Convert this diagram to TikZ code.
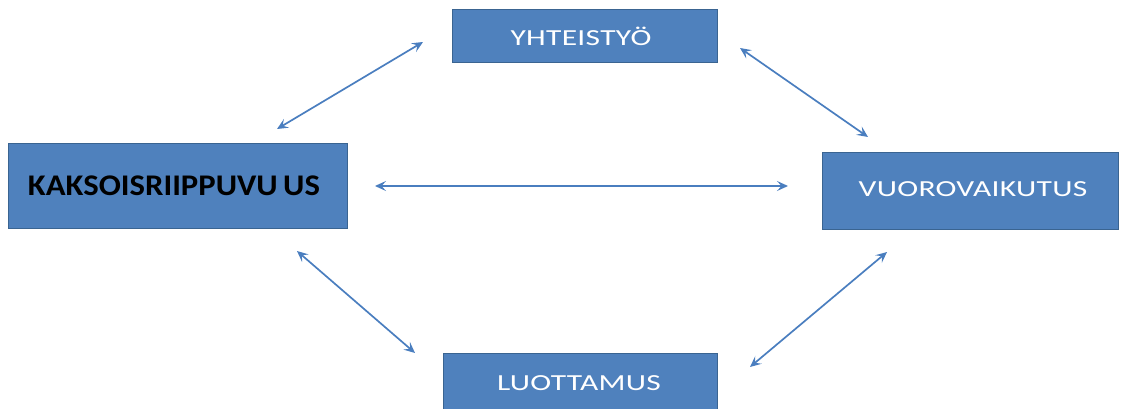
\documentclass[tikz,border=0pt]{standalone}
\usepackage{fontspec}
\setmainfont{Carlito}
\usetikzlibrary{arrows.meta}
\definecolor{boxfill}{HTML}{4F81BD}
\definecolor{boxline}{HTML}{3A6491}
\definecolor{arrowc}{HTML}{4A7EBF}
\newcommand{\widetext}[1]{\scalebox{1.37}[1]{\addfontfeature{LetterSpace=1}#1}}
\begin{document}
\begin{tikzpicture}[x=1pt,y=-1pt,
  box/.style={draw=boxline,line width=1pt,fill=boxfill,inner sep=0pt},
  lbl/.style={text=white,font=\fontsize{23}{26}\selectfont},
  link/.style={draw=arrowc,line width=1.7pt,{Stealth[length=11pt,width=10pt,inset=4.5pt]}-{Stealth[length=11pt,width=10pt,inset=4.5pt]}}]
\useasboundingbox (0,0) rectangle (1124,409);
% boxes
\path[box] (452,10) rectangle (717,63);
\path[box] (8,144) rectangle (347,228);
\path[box] (822,152) rectangle (1118,229);
\path[box] (443,353) rectangle (717,412);
% labels
\node[lbl] (y) at (581,36) {\widetext{YHTEISTYÖ}};
\node[font=\fontsize{30}{34}\selectfont\bfseries,text=black] (k) at (174,186) {\scalebox{1.09}[1]{KAKSOISRIIPPUVU\,US}};
\node[lbl] (v) at (973,189) {\widetext{VUOROVAIKUTUS}};
\node[lbl] (l) at (579,383) {\widetext{LUOTTAMUS}};
% arrow ends
\coordinate (a1) at (277,129); \coordinate (b1) at (423,42);
\coordinate (a2) at (740,48);  \coordinate (b2) at (868,137);
\coordinate (a3) at (375,186); \coordinate (b3) at (788,186);
\coordinate (a4) at (297,251); \coordinate (b4) at (415,353);
\coordinate (a5) at (887,252); \coordinate (b5) at (750,367);
\draw[link] (a1) -- (b1);
\draw[link] (a2) -- (b2);
\draw[link] (a3) -- (b3);
\draw[link] (a4) -- (b4);
\draw[link] (a5) -- (b5);
\end{tikzpicture}
\end{document}
